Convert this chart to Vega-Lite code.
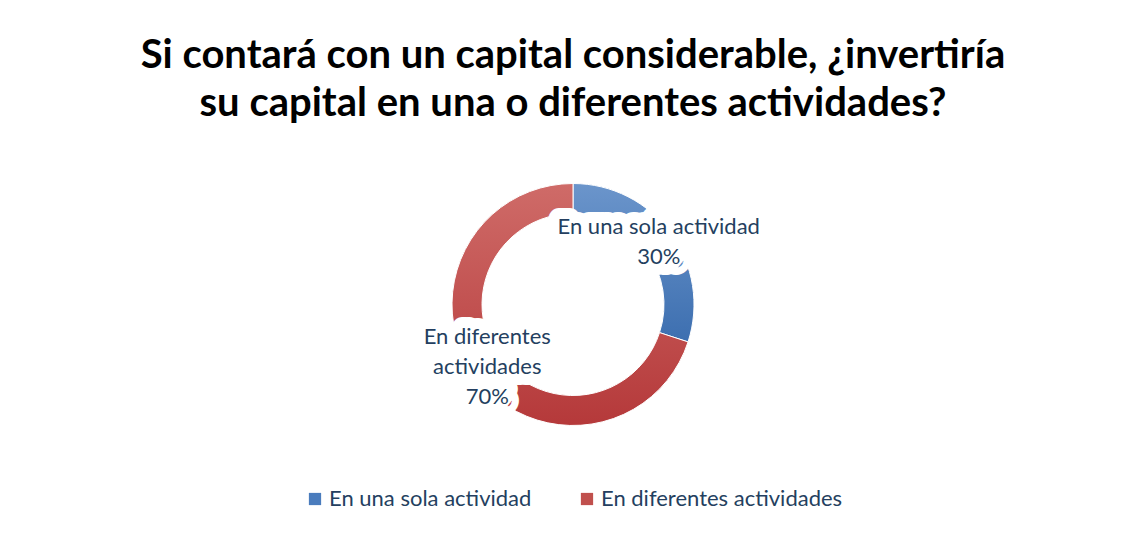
{
  "$schema": "https://vega.github.io/schema/vega-lite/v6.json",
  "width": 1132,
  "height": 535,
  "autosize": {"type": "fit", "contains": "padding"},
  "padding": {"left": 14, "right": 0, "top": 36, "bottom": 25},
  "background": "white",
  "config": {
    "view": {"stroke": null},
    "legend": {"layout": {"bottom": {"anchor": "middle"}}}
  },
  "title": {
    "text": ["Si contará con un capital considerable, ¿invertiría", "su capital en una o diferentes actividades?"],
    "font": "Lato",
    "fontSize": 40,
    "fontWeight": "bold",
    "color": "#000000",
    "lineHeight": 48,
    "anchor": "middle",
    "offset": 47
  },
  "data": {
    "values": [
      {"categoria": "En una sola actividad", "porcentaje": 30, "etiqueta": "En una sola actividad\n30%", "orden": 1},
      {"categoria": "En diferentes actividades", "porcentaje": 70, "etiqueta": "En diferentes\nactividades\n70%", "orden": 2}
    ]
  },
  "encoding": {
    "theta": {"field": "porcentaje", "type": "quantitative", "stack": true},
    "order": {"field": "orden", "type": "quantitative"}
  },
  "layer": [
    {
      "mark": {"type": "arc", "outerRadius": 121, "innerRadius": 91, "stroke": "white", "strokeWidth": 1},
      "encoding": {
        "color": {
          "field": "categoria",
          "type": "nominal",
          "scale": {"domain": ["En una sola actividad", "En diferentes actividades"], "range": ["#4a7cbd", "#c0504d"]},
          "legend": {
            "title": null,
            "orient": "bottom",
            "direction": "horizontal",
            "symbolType": "square",
            "symbolSize": 150,
            "symbolStrokeWidth": 0,
            "labelFont": "Lato",
            "labelFontSize": 22,
            "labelColor": "#243f60",
            "labelOffset": 3,
            "columnPadding": 44,
            "labelLimit": 400,
            "offset": 50
          }
        }
      }
    },
    {
      "mark": {"type": "arc", "outerRadius": 121, "innerRadius": 91, "stroke": "white", "strokeWidth": 1},
      "encoding": {
        "fill": {
          "condition": {
            "test": "datum.categoria == 'En una sola actividad'",
            "value": {"gradient": "linear", "x1": 0, "y1": 0, "x2": 0, "y2": 1, "stops": [{"offset": 0, "color": "#6b95cb"}, {"offset": 1, "color": "#3d6fb0"}]}
          },
          "value": {"gradient": "linear", "x1": 0, "y1": 0, "x2": 0, "y2": 1, "stops": [{"offset": 0, "color": "#cf6b68"}, {"offset": 1, "color": "#b5393a"}]}
        }
      }
    },
    {
      "mark": {"type": "text", "radius": 106, "font": "Lato", "fontSize": 22, "fill": "white", "stroke": "white", "strokeWidth": 22, "strokeJoin": "round", "lineBreak": "\n", "lineHeight": 30, "align": "center", "baseline": "middle", "dy": {"expr": "-(length(split(datum.etiqueta, '\\n')) - 1) * 15"}},
      "encoding": {
        "text": {"field": "etiqueta", "type": "nominal"}
      }
    },
    {
      "mark": {"type": "text", "radius": 106, "font": "Lato", "fontSize": 22, "color": "#243f60", "lineBreak": "\n", "lineHeight": 30, "align": "center", "baseline": "middle", "dy": {"expr": "-(length(split(datum.etiqueta, '\\n')) - 1) * 15"}},
      "encoding": {
        "text": {"field": "etiqueta", "type": "nominal"}
      }
    }
  ]
}
